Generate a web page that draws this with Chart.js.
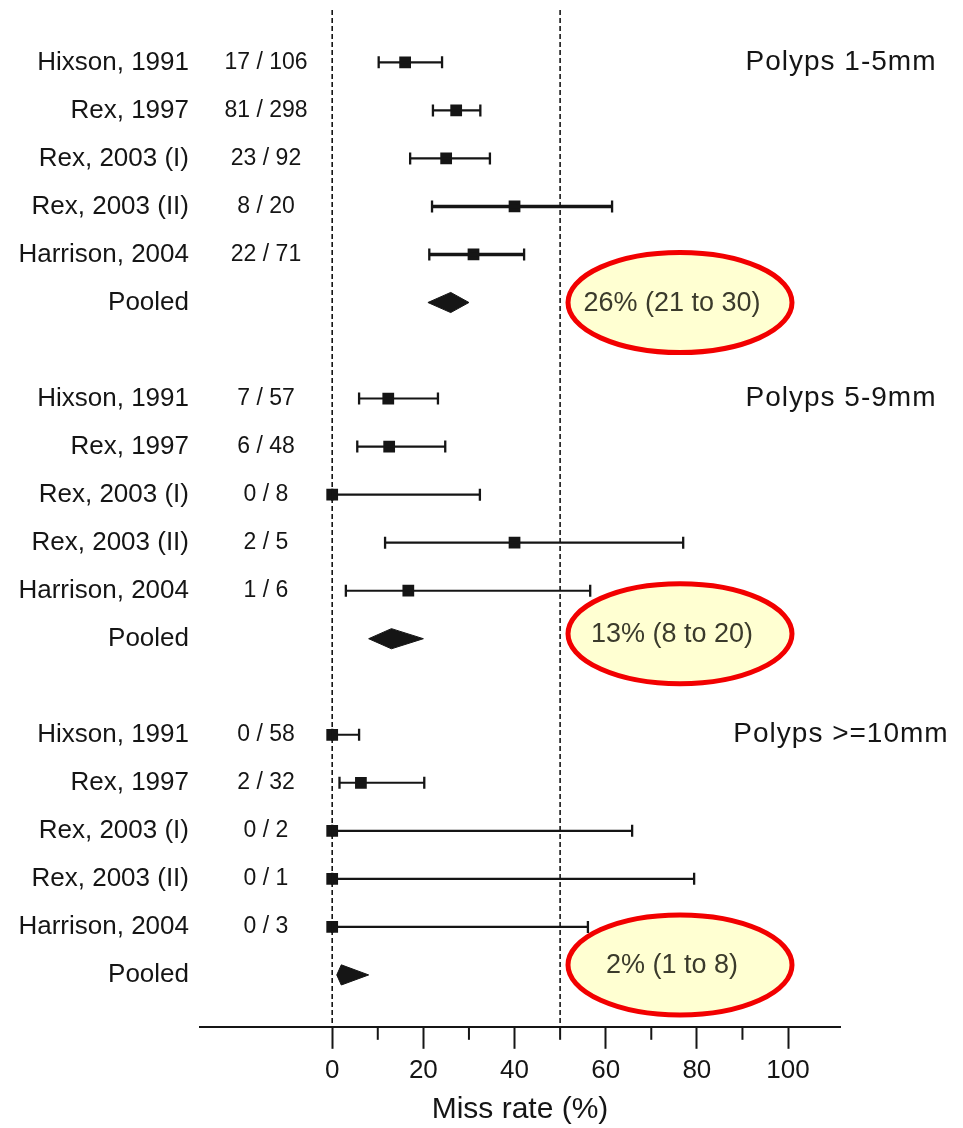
<!DOCTYPE html>
<html>
<head>
<meta charset="utf-8">
<title>Miss rate forest plot</title>
<script src="https://cdn.jsdelivr.net/npm/chart.js@4.4.1/dist/chart.umd.min.js"></script>
<style>
  body { margin: 0; background: #fff; }
  #wrap { width: 963px; height: 1128px; }
</style>
</head>
<body>
<div id="wrap"><canvas id="forest" width="963" height="1128"></canvas></div>
<script>
// ---- data ----
const studyNames = ['Hixson, 1991', 'Rex, 1997', 'Rex, 2003 (I)', 'Rex, 2003 (II)', 'Harrison, 2004'];
const groupTitles = ['Polyps 1-5mm', 'Polyps 5-9mm', 'Polyps >=10mm'];

const missed1 = [17, 81, 23, 8, 22];
const total1  = [106, 298, 92, 20, 71];
const rate1   = [16.0, 27.2, 25.0, 40.0, 31.0];
const lower1  = [10.2, 22.1, 17.1, 21.9, 21.3];
const upper1  = [24.1, 32.5, 34.6, 61.4, 42.1];

const missed2 = [7, 6, 0, 2, 1];
const total2  = [57, 48, 8, 5, 6];
const rate2   = [12.3, 12.5, 0, 40.0, 16.7];
const lower2  = [5.9, 5.5, 0, 11.6, 3.0];
const upper2  = [23.2, 24.8, 32.4, 77.0, 56.6];

const missed3 = [0, 2, 0, 0, 0];
const total3  = [58, 32, 2, 1, 3];
const rate3   = [0, 6.3, 0, 0, 0];
const lower3  = [0, 1.6, 0, 0, 0];
const upper3  = [5.9, 20.2, 65.8, 79.4, 56.1];

const pooledEst = [26, 13, 2];
const pooledLo  = [21, 8, 1];
const pooledHi  = [30, 20, 8];

const refLines = [0, 50];
const tickValues = [0, 10, 20, 30, 40, 50, 60, 70, 80, 90, 100];
const tickLabels = ['0', '', '20', '', '40', '', '60', '', '80', '', '100'];

// ---- layout / style ----
const FONT = "'Liberation Sans', Arial, Helvetica, sans-serif";
const INK = '#151515';
const groupStart = [0, 7, 14];         // first row of each block
const thickRows = [3, 4];              // heavier CI lines in the first block
const diamondHalf = 0.21;              // half height of pooled diamonds, in rows

const groups = [
  {missed: missed1, total: total1, rate: rate1, lo: lower1, hi: upper1},
  {missed: missed2, total: total2, rate: rate2, lo: lower2, hi: upper2},
  {missed: missed3, total: total3, rate: rate3, lo: lower3, hi: upper3}
];

const datasets = [];

// dashed reference lines
refLines.forEach(v => {
  datasets.push({
    type: 'line',
    data: [{x: v, y: -1.09}, {x: v, y: 20.08}],
    borderColor: INK, borderWidth: 1.6, borderDash: [5, 3],
    pointRadius: 0, fill: false
  });
});

// confidence interval lines with end caps
groups.forEach((g, gi) => {
  g.rate.forEach((r, i) => {
    const row = groupStart[gi] + i;
    const w = (gi === 0 && thickRows.includes(i)) ? 3.4 : 2.1;
    datasets.push({
      type: 'line',
      data: [{x: g.lo[i], y: row}, {x: g.hi[i], y: row}],
      borderColor: INK, borderWidth: w,
      pointStyle: 'line', rotation: 90, pointRadius: 6,
      pointBorderWidth: 2.3, pointBorderColor: INK, pointBackgroundColor: INK,
      fill: false
    });
  });
});

// point estimates (squares)
const squares = [];
groups.forEach((g, gi) => g.rate.forEach((r, i) => squares.push({x: r, y: groupStart[gi] + i})));
datasets.push({
  type: 'scatter',
  data: squares,
  pointStyle: 'rect', pointRadius: 8.3, pointBorderWidth: 0,
  pointBackgroundColor: INK
});

// pooled diamonds
pooledEst.forEach((e, gi) => {
  const row = groupStart[gi] + 5;
  datasets.push({
    type: 'line',
    data: [
      {x: pooledLo[gi], y: row},
      {x: e, y: row - diamondHalf},
      {x: pooledHi[gi], y: row},
      {x: e, y: row + diamondHalf},
      {x: pooledLo[gi], y: row}
    ],
    borderColor: INK, borderWidth: 1, backgroundColor: INK,
    pointRadius: 0, fill: 'shape', tension: 0
  });
});

// text columns, group titles, highlighted pooled results, minor ticks
const annotate = {
  id: 'annotate',
  afterDraw(chart) {
    const {ctx, scales: {x, y}} = chart;
    ctx.save();
    ctx.fillStyle = INK;
    ctx.textBaseline = 'middle';

    groups.forEach((g, gi) => {
      const base = groupStart[gi];
      studyNames.forEach((name, i) => {
        const py = y.getPixelForValue(base + i);
        ctx.font = '26px ' + FONT;
        ctx.textAlign = 'right';
        ctx.fillText(name, 189, py);
        ctx.font = '23px ' + FONT;
        ctx.textAlign = 'center';
        ctx.fillText(g.missed[i] + ' / ' + g.total[i], 266, py);
      });
      const pooledY = y.getPixelForValue(base + 5);
      ctx.font = '26px ' + FONT;
      ctx.textAlign = 'right';
      ctx.fillText('Pooled', 189, pooledY);

      // block title
      ctx.font = '28px ' + FONT;
      ctx.textAlign = 'center';
      ctx.letterSpacing = '1px';
      ctx.fillText(groupTitles[gi], 841, y.getPixelForValue(base));
      ctx.letterSpacing = '0px';

      // ellipse with pooled estimate
      const cx = x.getPixelForValue(76.3);
      const cy = pooledY - gi * 5;
      ctx.beginPath();
      ctx.ellipse(cx, cy, 112, 50, 0, 0, Math.PI * 2);
      ctx.fillStyle = '#ffffd2';
      ctx.fill();
      ctx.lineWidth = 5;
      ctx.strokeStyle = '#f20000';
      ctx.stroke();
      ctx.fillStyle = '#3b3b2c';
      ctx.font = '27px ' + FONT;
      ctx.fillText(pooledEst[gi] + '% (' + pooledLo[gi] + ' to ' + pooledHi[gi] + ')', cx - 8, cy + 1);
      ctx.fillStyle = INK;
    });

    // short minor ticks
    ctx.strokeStyle = INK;
    ctx.lineWidth = 2;
    tickValues.forEach((v, i) => {
      if (tickLabels[i] !== '') return;
      const px = x.getPixelForValue(v);
      ctx.beginPath();
      ctx.moveTo(px, x.top);
      ctx.lineTo(px, x.top + 13);
      ctx.stroke();
    });
    ctx.restore();
  }
};

new Chart(document.getElementById('forest'), {
  type: 'scatter',
  data: {datasets},
  options: {
    responsive: false,
    animation: false,
    events: [],
    layout: {padding: {left: 200, right: 123, top: 10, bottom: 0}},
    plugins: {legend: {display: false}, tooltip: {enabled: false}},
    scales: {
      x: {
        type: 'linear', min: -29, max: 111.4,
        afterBuildTicks: s => { s.ticks = tickValues.map(v => ({value: v})); },
        grid: {
          drawOnChartArea: false, drawTicks: true, tickLength: 22, tickWidth: 2,
          tickColor: c => (tickLabels[tickValues.indexOf(c.tick.value)] !== '' ? INK : 'rgba(0,0,0,0)')
        },
        border: {display: true, color: INK, width: 2},
        ticks: {
          padding: 6, color: INK, font: {family: FONT, size: 26},
          maxRotation: 0, autoSkip: false,
          callback: v => tickLabels[tickValues.indexOf(v)] ?? ''
        },
        title: {display: true, text: 'Miss rate (%)', color: INK,
                font: {family: FONT, size: 30}, padding: {top: 0, bottom: 0}}
      },
      y: {
        type: 'linear', min: -1.09, max: 20.08, reverse: true, display: false
      }
    }
  },
  plugins: [annotate]
});
</script>
</body>
</html>
